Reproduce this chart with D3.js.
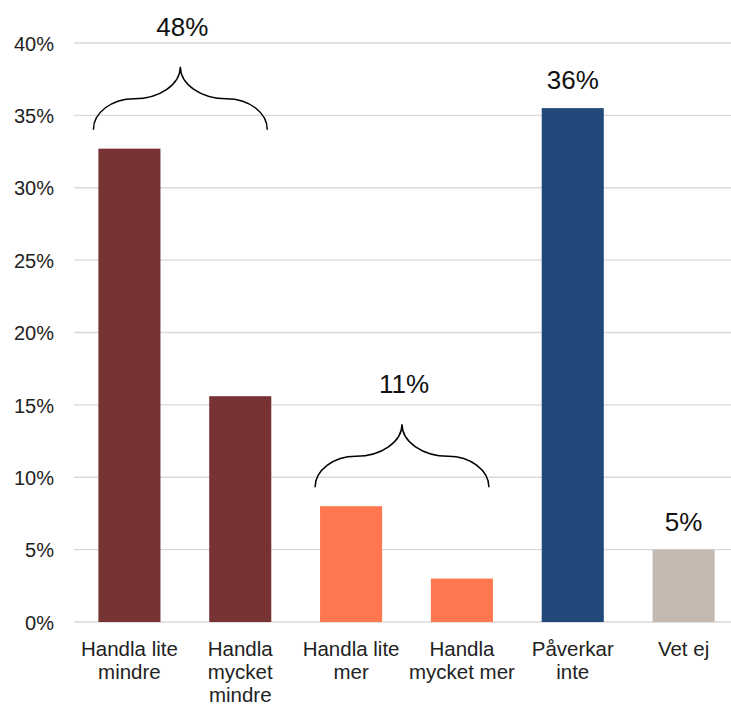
<!DOCTYPE html>
<html>
<head>
<meta charset="utf-8">
<script src="https://cdn.jsdelivr.net/npm/d3@7"></script>
<style>
  html, body { margin: 0; padding: 0; background: #fff; }
  svg { display: block; font-family: "Liberation Sans", Arial, sans-serif; }
</style>
</head>
<body>
<svg id="chart" width="731" height="705"></svg>
<script>
// ---- data ----
const categories = [
  "Handla lite mindre",
  "Handla mycket mindre",
  "Handla lite mer",
  "Handla mycket mer",
  "Påverkar inte",
  "Vet ej"
];
const categoryLines = [
  ["Handla lite", "mindre"],
  ["Handla", "mycket", "mindre"],
  ["Handla lite", "mer"],
  ["Handla", "mycket mer"],
  ["Påverkar", "inte"],
  ["Vet ej"]
];
const values = [32.7, 15.6, 8.0, 3.0, 35.5, 5.0];
const barColors = ["#773234", "#773234", "#FF774F", "#FF774F", "#21497A", "#C5B8AF"];
const barLabels = [null, null, null, null, "36%", "5%"];
const groupFirst = [0, 2];
const groupLast = [1, 3];
const groupLabels = ["48%", "11%"];
const yTicks = [0, 5, 10, 15, 20, 25, 30, 35, 40];

// ---- layout ----
const svg = d3.select("#chart");
const plotLeft = 74, plotRight = 739, plotTop = 43, plotBottom = 622;

const x = d3.scaleBand().domain(categories).range([plotLeft, plotRight])
  .paddingInner(0.44).paddingOuter(0.22);
const y = d3.scaleLinear().domain([0, 40]).range([plotBottom, plotTop]);

// gridlines
svg.append("g").selectAll("line").data(yTicks).join("line")
  .attr("x1", plotLeft).attr("x2", plotRight)
  .attr("y1", d => y(d)).attr("y2", d => y(d))
  .attr("stroke", "#d9d9d9").attr("stroke-width", 1.3);

// y axis labels
const yAxis = d3.axisLeft(y).tickValues(yTicks).tickFormat(d => d + "%").tickSize(0).tickPadding(0);
const yg = svg.append("g").attr("transform", `translate(${plotLeft - 20},0)`).call(yAxis);
yg.select(".domain").remove();
yg.selectAll("text").attr("font-size", 20).attr("fill", "#222")
  .attr("font-family", "Liberation Sans, Arial, sans-serif").attr("dy", "0.36em");

// bars
svg.append("g").selectAll("rect").data(categories).join("rect")
  .attr("x", d => x(d)).attr("width", x.bandwidth())
  .attr("y", (d, i) => y(values[i]))
  .attr("height", (d, i) => y(0) - y(values[i]))
  .attr("fill", (d, i) => barColors[i]);

// bar labels
svg.append("g").selectAll("text").data(categories).join("text")
  .filter((d, i) => barLabels[i] !== null)
  .attr("x", d => x(d) + x.bandwidth() / 2)
  .attr("y", d => y(values[categories.indexOf(d)]) - 19)
  .attr("text-anchor", "middle").attr("font-size", 26).attr("fill", "#111")
  .text(d => barLabels[categories.indexOf(d)]);

// category labels
const xl = svg.append("g").selectAll("text").data(categories).join("text")
  .attr("x", d => x(d) + x.bandwidth() / 2)
  .attr("y", plotBottom + 34)
  .attr("text-anchor", "middle").attr("font-size", 20.5).attr("fill", "#222");
xl.each(function(d, i) {
  const t = d3.select(this);
  categoryLines[i].forEach((ln, j) => {
    t.append("tspan").attr("x", x(d) + x.bandwidth() / 2)
      .attr("dy", j === 0 ? 0 : 23).text(ln);
  });
});

// braces
const braceH = 63;
function bracePath(x0, x1, yb) {
  const ym = yb - 31, yt = yb - braceH;
  const xc = (x0 + x1) / 2, w = xc - x0;
  const k = 0.55;
  const a = 0.47 * w, b = w - a;
  const h1 = yb - ym, h2 = ym - yt;
  return [
    `M${x0},${yb}`,
    `C${x0},${yb - k * h1} ${x0 + a - k * a},${ym} ${x0 + a},${ym}`,
    `C${x0 + a + k * b},${ym} ${xc},${yt + k * h2} ${xc},${yt}`,
    `C${xc},${yt + k * h2} ${xc + b - k * b},${ym} ${xc + b},${ym}`,
    `C${x1 - a + k * a},${ym} ${x1},${yb - k * h1} ${x1},${yb}`
  ].join(" ");
}
groupLabels.forEach((lab, g) => {
  const c0 = categories[groupFirst[g]], c1 = categories[groupLast[g]];
  const x0 = x(c0) + x.bandwidth() / 2 - 36;
  const x1 = x(c1) + x.bandwidth() / 2 + 27;
  const maxV = d3.max(values.slice(groupFirst[g], groupLast[g] + 1));
  const yb = y(maxV) - 19;
  svg.append("path").attr("d", bracePath(x0, x1, yb))
    .attr("fill", "none").attr("stroke", "#000").attr("stroke-width", 1.5);
  svg.append("text").attr("x", (x0 + x1) / 2 + 2).attr("y", yb - braceH - 31)
    .attr("text-anchor", "middle").attr("font-size", 26).attr("fill", "#111").text(lab);
});
</script>
</body>
</html>
